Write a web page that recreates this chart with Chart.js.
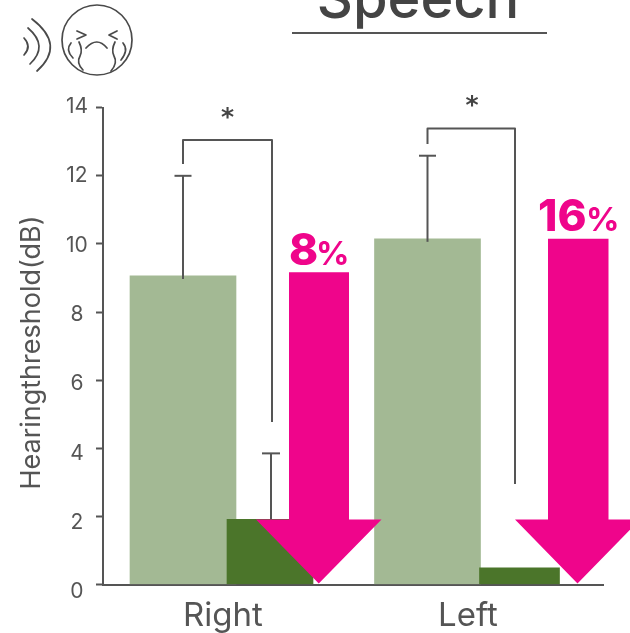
<!DOCTYPE html>
<html>
<head>
<meta charset="utf-8">
<style>
  html, body { margin: 0; padding: 0; background: #fff; }
  canvas { display: block; }
</style>
<script src="https://cdn.jsdelivr.net/npm/chart.js@4"></script>
</head>
<body>
<canvas id="speech" width="630" height="633"></canvas>
<script>
// data
var categories = ["Right", "Left"];
var groupPos = [1, 2];
var untreated = [9.06, 10.15];
var treated = [1.91, 0.49];
var untreatedErr = [12.0, 12.59];
var treatedErr = [3.85];
var reduction = [8, 16];
var arrowTop = [9.17, 10.15];
var yTicks = [0, 2, 4, 6, 8, 10, 12, 14];

var INK = "#555555";
var MAGENTA = "#ef058b";
var FONT = "Inter, sans-serif";

// x scale: 245px per group, axis from px 103 to 603
var PX = 1 / 245;
function xu(px) { return 1 + (px - 223) * PX; }

function line(ctx, pts) {
    ctx.beginPath();
    pts.forEach(function (p, i) {
        if (i === 0) ctx.moveTo(p[0], p[1]); else ctx.lineTo(p[0], p[1]);
    });
    ctx.stroke();
}

function curve(ctx, pts) {
    // pts: start, then control + end pairs
    ctx.beginPath();
    ctx.moveTo(pts[0][0], pts[0][1]);
    for (var i = 1; i + 1 < pts.length; i += 2) {
        ctx.quadraticCurveTo(pts[i][0], pts[i][1], pts[i + 1][0], pts[i + 1][1]);
    }
    ctx.stroke();
}

var decorations = {
    id: "decorations",
    afterDatasetsDraw: function (chart) {
        var ctx = chart.ctx;
        var y = chart.scales.y;
        ctx.save();
        ctx.lineCap = "butt";
        ctx.lineJoin = "round";

        /* -------- error bars -------- */
        ctx.strokeStyle = INK;
        ctx.lineWidth = 2;
        var errX = [183, 427.5];
        untreatedErr.forEach(function (v, i) {
            var top = y.getPixelForValue(v);
            line(ctx, [[errX[i], y.getPixelForValue(untreated[i]) + 3], [errX[i], top]]);
            line(ctx, [[errX[i] - 8.5, top], [errX[i] + 8.5, top]]);
        });
        var top = y.getPixelForValue(treatedErr[0]);
        line(ctx, [[271, y.getPixelForValue(treated[0])], [271, top]]);
        line(ctx, [[262, top], [280, top]]);

        /* -------- significance brackets -------- */
        line(ctx, [[183, 164], [183, 140], [272, 140], [272, 422]]);
        line(ctx, [[427.5, 144], [427.5, 128.5], [515, 128.5], [515, 484]]);

        ctx.fillStyle = "#444";
        ctx.font = "bold 25px 'DejaVu Sans'";
        ctx.textAlign = "center";
        ctx.fillText("*", 227.5, 125);
        ctx.fillText("*", 472, 113);

        /* -------- arrows -------- */
        var shaft = [[289, 349], [548, 608.5]];
        var head = [[256, 381.5], [515, 640]];
        ctx.fillStyle = MAGENTA;
        reduction.forEach(function (pct, i) {
            var headY = 519.5, tipY = 583.5;
            var t = y.getPixelForValue(arrowTop[i]);
            var mid = (head[i][0] + head[i][1]) / 2;
            ctx.beginPath();
            ctx.moveTo(shaft[i][0], t);
            ctx.lineTo(shaft[i][1], t);
            ctx.lineTo(shaft[i][1], headY);
            ctx.lineTo(head[i][1], headY);
            ctx.lineTo(mid, tipY);
            ctx.lineTo(head[i][0], headY);
            ctx.lineTo(shaft[i][0], headY);
            ctx.closePath();
            ctx.fill();
        });
        ctx.textAlign = "left";
        ctx.font = "800 44px " + FONT;
        ctx.fillText(reduction[0], 289, 265);
        ctx.fillText(reduction[1], 538, 231);
        ctx.font = "700 33px " + FONT;
        ctx.fillText("%", 316, 265);
        ctx.fillText("%", 586, 231);

        /* -------- title -------- */
        ctx.fillStyle = "#444";
        ctx.font = "500 56px " + FONT;
        ctx.textAlign = "center";
        ctx.fillText("Speech", 418, 18);
        ctx.strokeStyle = INK;
        ctx.lineWidth = 2;
        line(ctx, [[292, 33], [547, 33]]);

        /* -------- y axis title -------- */
        ctx.save();
        ctx.translate(32, 352.5);
        ctx.rotate(-Math.PI / 2);
        ctx.fillStyle = INK;
        ctx.font = "400 27px " + FONT;
        ctx.textBaseline = "middle";
        ctx.fillText("Hearingthreshold(dB)", 0, 0);
        ctx.restore();

        drawIcon(ctx);
        ctx.restore();
    }
};

function drawIcon(ctx) {
    ctx.strokeStyle = "#4a4a4a";
    ctx.lineWidth = 1.7;
    ctx.lineCap = "round";
    ctx.lineJoin = "round";

    // sound waves
    curve(ctx, [[24, 38], [32, 46.5], [24, 55]]);
    curve(ctx, [[28, 28], [49, 46], [30, 64]]);
    curve(ctx, [[32, 19], [66, 45], [37, 71]]);

    // face
    ctx.beginPath();
    ctx.arc(97, 40, 35, 0, Math.PI * 2);
    ctx.stroke();

    // eyes
    line(ctx, [[77, 31], [86, 35], [77, 39]]);
    line(ctx, [[117, 31], [109, 35], [117, 39]]);

    // mouth
    curve(ctx, [[86, 48], [97, 36], [107, 48]]);

    // tears
    curve(ctx, [[79, 42], [83, 50], [80, 56], [76, 63], [83, 70]]);
    curve(ctx, [[115, 42], [111, 50], [114, 56], [118, 63], [111, 71]]);
    curve(ctx, [[71, 43], [65, 50], [73, 58]]);
    curve(ctx, [[123, 43], [129, 50], [121, 60]]);
}

function barSet(value, pos, color, thickness) {
    return {
        data: [{ x: pos, y: value }],
        backgroundColor: color,
        barThickness: thickness,
        grouped: false,
        borderWidth: 0
    };
}

var myChart = new Chart(document.getElementById("speech"), {
    type: "bar",
    data: {
        // first dataset is painted last, so the dark bars go first
        datasets: [
            barSet(treated[0], xu(270), "#4b752a", 86),
            barSet(treated[1], xu(519.5), "#4b752a", 80),
            barSet(untreated[0], xu(183), "#a3b994", 106),
            barSet(untreated[1], xu(427.5), "#a3b994", 106)
        ]
    },
    options: {
        responsive: false,
        animation: false,
        layout: { padding: { top: 107.7, right: 27, left: 0, bottom: 0 } },
        plugins: { legend: { display: false }, tooltip: { enabled: false } },
        scales: {
            x: {
                type: "linear",
                offset: false,
                min: xu(103),
                max: xu(603),
                grid: { display: false, drawTicks: false },
                border: { color: INK, width: 2 },
                afterFit: function (s) { s.height = 48.5; },
                afterBuildTicks: function (s) {
                    s.ticks = groupPos.map(function (v) { return { value: v }; });
                },
                ticks: {
                    autoSkip: false,
                    maxRotation: 0,
                    padding: 12,
                    color: INK,
                    font: { family: "Inter, sans-serif", size: 33 },
                    callback: function (v) { return categories[groupPos.indexOf(v)]; }
                }
            },
            y: {
                min: 0,
                max: 14,
                weight: 1,
                grid: { drawOnChartArea: false, drawTicks: true, tickLength: 7, tickWidth: 2, tickColor: INK },
                border: { color: INK, width: 2 },
                afterFit: function (s) { s.width = 0; },
                afterBuildTicks: function (s) {
                    s.ticks = yTicks.map(function (v) { return { value: v }; });
                },
                ticks: { display: false }
            },
            // tick labels sit on a slightly wider spacing than the tick marks in the original
            yLab: {
                axis: "y",
                position: "left",
                weight: 2,
                min: 0,
                max: 13.76,
                grid: { display: false, drawTicks: false },
                border: { display: false },
                afterFit: function (s) { s.width = 103; },
                afterBuildTicks: function (s) {
                    s.ticks = yTicks.map(function (v) { return { value: v }; });
                },
                ticks: {
                    padding: 15,
                    crossAlign: "center",
                    labelOffset: 7.5,
                    color: INK,
                    autoSkip: false,
                    font: { family: "Inter, sans-serif", size: 21 }
                }
            }
        }
    },
    plugins: [decorations]
});
</script>
</body>
</html>
